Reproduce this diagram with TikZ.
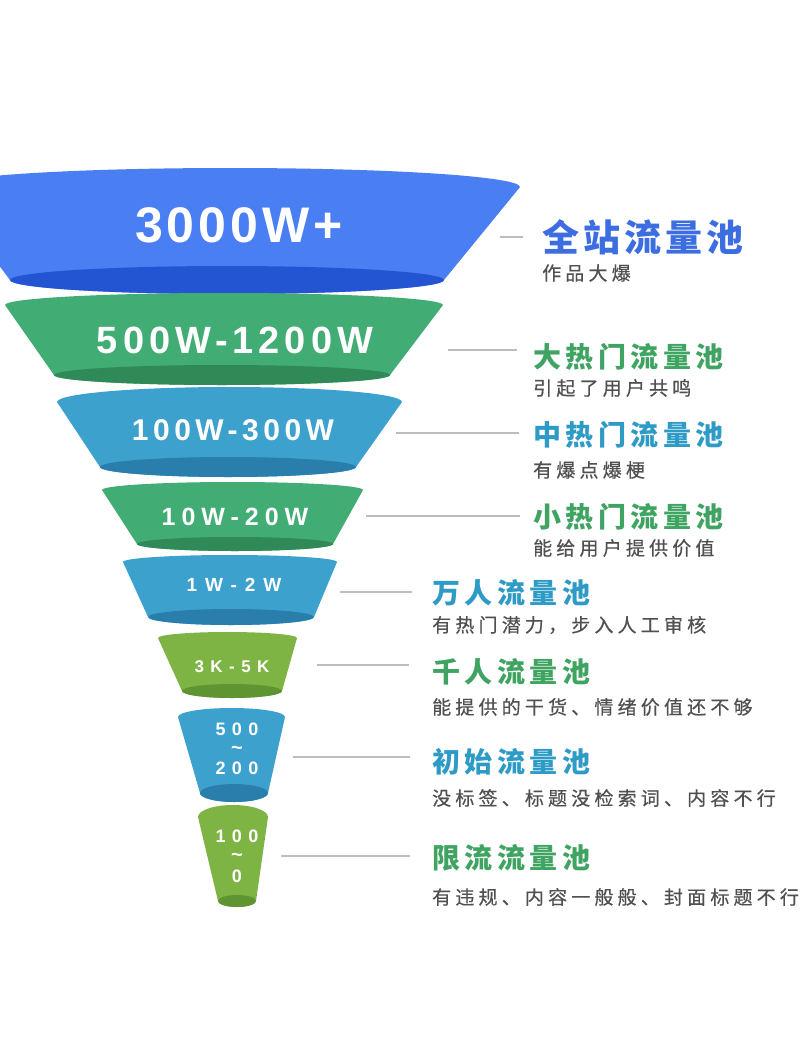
\documentclass[tikz,border=0pt]{standalone}
\usepackage{fontspec}
\newfontfamily\cjk{Noto Sans CJK SC}
\newfontfamily\numf{Liberation Sans}
\definecolor{sA}{HTML}{4A7EF3}\definecolor{sAd}{HTML}{2355D3}
\definecolor{sB}{HTML}{41AC74}\definecolor{sBd}{HTML}{2F8A58}
\definecolor{sC}{HTML}{3DA1CE}\definecolor{sCd}{HTML}{2A7EAC}
\definecolor{sD}{HTML}{7EB444}\definecolor{sDd}{HTML}{5E9431}
\definecolor{tA}{HTML}{3C6EE2}\definecolor{tG}{HTML}{3FA462}
\definecolor{tT}{HTML}{2E9BC6}\definecolor{subg}{HTML}{505050}
\definecolor{connc}{HTML}{BDBDBD}
\newcommand\fseg[9]{%
 \pgfmathsetmacro\fsegA{(#2-#1)/2}%
 \pgfmathsetmacro\fsegB{#3-#4}%
 \fill[#9] (#1,-#3) arc[start angle=180,end angle=0,x radius=\fsegA,y radius=\fsegB] -- ({#5+#7},-#6) arc[start angle=0,end angle=-180,x radius=#7,y radius=#8] -- cycle;
 \fill[#9d] (#5,-#6) ellipse[x radius=#7,y radius=#8];
}
\tikzset{
 num/.style={text=white,inner sep=0pt,anchor=center},
 tilde/.style={text=white,inner sep=0pt,anchor=center,font=\numf\bfseries\fontsize{20}{20}\selectfont},
 ttl/.style={inner sep=0pt,anchor=west,font=\cjk\bfseries\fontsize{28}{28}\selectfont\addfontfeature{LetterSpace=16}},
 ttlbig/.style={inner sep=0pt,anchor=west,text=tA,font=\cjk\bfseries\fontsize{37}{37}\selectfont\addfontfeature{LetterSpace=11}},
 sub/.style={inner sep=0pt,anchor=west,text=subg,font=\cjk\fontsize{19}{19}\selectfont\addfontfeature{LetterSpace=22,FakeBold=0.5}},
 conn/.style={draw=connc,line width=1.3pt}
}
\begin{document}
\begin{tikzpicture}[x=1pt,y=1pt]
\useasboundingbox (0,0) rectangle (800,-1044);
\fill[white] (0,0) rectangle (800,-1044);
\clip (0,0) rectangle (800,-1044);
% funnel segments
\fseg{-60}{520}{187}{168}{227}{280}{217}{14}{sA}
\fseg{5}{443}{305}{293}{222}{375}{168}{10}{sB}
\fseg{57}{402}{402}{387}{228}{467}{128}{10}{sC}
\fseg{102}{363}{490}{482}{235}{544}{98}{7}{sB}
\fseg{123}{337}{562}{555}{231}{617}{83}{8}{sC}
\fseg{158}{297}{638}{632}{232}{691}{50}{7}{sD}
\fseg{178}{285}{717}{708}{234}{793}{34}{9}{sC}
\fseg{198}{268}{817}{805}{237}{901}{19}{6}{sD}
% funnel numbers
\node[num,font=\numf\bfseries\fontsize{50}{50}\selectfont\addfontfeature{LetterSpace=8}] (n1) at (239,-225) {3000W+};
\node[num,font=\numf\bfseries\fontsize{38}{38}\selectfont\addfontfeature{LetterSpace=13}] (n2) at (235,-340) {500W-1200W};
\node[num,font=\numf\bfseries\fontsize{30}{30}\selectfont\addfontfeature{LetterSpace=15}] (n3) at (233,-430) {100W-300W};
\node[num,font=\numf\bfseries\fontsize{25}{25}\selectfont\addfontfeature{LetterSpace=24}] (n4) at (235,-517) {10W-20W};
\node[num,font=\numf\bfseries\fontsize{19}{19}\selectfont\addfontfeature{LetterSpace=42}] (n5) at (234,-585) {1W-2W};
\node[num,font=\numf\bfseries\fontsize{17}{17}\selectfont\addfontfeature{LetterSpace=38}] (n6) at (232,-667) {3K-5K};
\node[num,font=\numf\bfseries\fontsize{18}{18}\selectfont\addfontfeature{LetterSpace=36}] (n7a) at (237,-729) {500};
\node[tilde] (n7b) at (237,-750) {\textasciitilde};
\node[num,font=\numf\bfseries\fontsize{18}{18}\selectfont\addfontfeature{LetterSpace=36}] (n7c) at (237,-768) {200};
\node[num,font=\numf\bfseries\fontsize{18}{18}\selectfont\addfontfeature{LetterSpace=36}] (n8a) at (237,-836) {100};
\node[tilde] (n8b) at (237,-857) {\textasciitilde};
\node[num,font=\numf\bfseries\fontsize{18}{18}\selectfont] (n8c) at (237,-876) {0};
% connectors
\coordinate (c1a) at (500,-237); \coordinate (c1b) at (523,-237);
\coordinate (c2a) at (448,-350); \coordinate (c2b) at (517,-350);
\coordinate (c3a) at (396,-433); \coordinate (c3b) at (519,-433);
\coordinate (c4a) at (366,-516); \coordinate (c4b) at (520,-516);
\coordinate (c5a) at (340,-592); \coordinate (c5b) at (412,-592);
\coordinate (c6a) at (317,-665); \coordinate (c6b) at (409,-665);
\coordinate (c7a) at (293,-757); \coordinate (c7b) at (410,-757);
\coordinate (c8a) at (281,-856); \coordinate (c8b) at (410,-856);
\foreach \i in {1,...,8} {\draw[conn] (c\i a) -- (c\i b);}
% labels
\node[ttlbig] (t1) at (542,-237) {全站流量池};
\node[sub] (s1) at (542,-273) {作品大爆};
\node[ttl,text=tG] (t2) at (533,-357) {大热门流量池};
\node[sub] (s2) at (533,-388) {引起了用户共鸣};
\node[ttl,text=tT] (t3) at (533,-435) {中热门流量池};
\node[sub] (s3) at (533,-470) {有爆点爆梗};
\node[ttl,text=tG] (t4) at (533,-517) {小热门流量池};
\node[sub] (s4) at (533,-548) {能给用户提供价值};
\node[ttl,text=tT] (t5) at (432,-593) {万人流量池};
\node[sub] (s5) at (432,-625) {有热门潜力，步入人工审核};
\node[ttl,text=tG] (t6) at (432,-672) {千人流量池};
\node[sub] (s6) at (432,-707) {能提供的干货、情绪价值还不够};
\node[ttl,text=tT] (t7) at (432,-762) {初始流量池};
\node[sub] (s7) at (432,-798) {没标签、标题没检索词、内容不行};
\node[ttl,text=tG] (t8) at (432,-858) {限流流量池};
\node[sub] (s8) at (432,-897) {有违规、内容一般般、封面标题不行};
\end{tikzpicture}
\end{document}
